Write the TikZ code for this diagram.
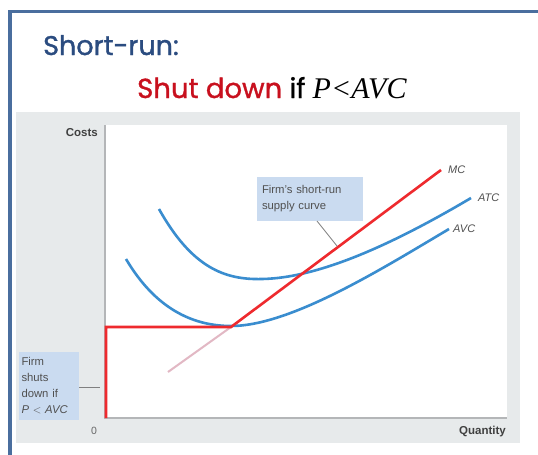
\documentclass[tikz,border=0pt]{standalone}
\usepackage{fontspec}
\setmainfont{Liberation Sans}
\newfontfamily\titlefont[FakeBold=1.2]{Poppins}
\newfontfamily\serifit{Liberation Serif}
\usetikzlibrary{positioning,calc}
\definecolor{framecol}{HTML}{4A6E9E}
\definecolor{titleblue}{HTML}{2B4C80}
\definecolor{shutred}{HTML}{C8101E}
\definecolor{panelgrey}{HTML}{E7EAEB}
\definecolor{curveblue}{HTML}{3A8DCF}
\definecolor{mcred}{HTML}{EE2A2E}
\definecolor{fadepink}{HTML}{E2B8C4}
\definecolor{notefill}{HTML}{CADBF0}
\definecolor{axisgrey}{HTML}{B4B6B8}
\definecolor{textgrey}{HTML}{505050}

\begin{document}
\begin{tikzpicture}[x=1pt,y=-1pt]
\tikzstyle{curvelbl}=[font=\fontsize{11}{11}\selectfont\itshape,text=textgrey,inner sep=0pt]
\tikzstyle{axlbl}=[font=\fontsize{11.5}{11.5}\selectfont\bfseries,text=black!75,inner sep=0pt]
\tikzstyle{note}=[fill=notefill,text=textgrey,align=left,inner sep=0pt,
  font=\fontsize{11.3}{16}\selectfont]
\tikzstyle{cost}=[curveblue,line width=2.6pt]
\tikzstyle{supply}=[mcred,line width=2.6pt]
\tikzstyle{pointer}=[gray,line width=0.8pt]
\useasboundingbox (0,0) rectangle (538,455);
\fill[white] (0,0) rectangle (538,455);
\draw[framecol,line width=3.8pt] (10,460) -- (10,11.5) -- (545,11.5);
\fill[panelgrey] (16,112) rectangle (520,443);
\fill[white] (105,125) rectangle (507,418);
\draw[axisgrey,line width=1.3pt] (105,125) -- (105,418) -- (507,418);

\node[anchor=base west,inner sep=0pt,text=titleblue,
  font=\titlefont\fontsize{27}{27}\selectfont] (title) at (43,55) {Short-run:};
\node[anchor=base west,inner sep=0pt,
  font=\titlefont\fontsize{27.5}{27.5}\selectfont] (rule) at (137,98)
  {\textcolor{shutred}{Shut down} if {\serifit\itshape\fontsize{30}{30}\selectfont P<AVC}};

\node[axlbl,anchor=base east] (costs) at (98,136) {Costs};
\node[axlbl,anchor=base east] (qty) at (506,434) {Quantity};
\node[axlbl,font=\fontsize{10.5}{10.5}\selectfont,text=black!60] (zero) at (94,431) {0};

\coordinate (o) at (106,418);
\coordinate (shutp) at (106,327);
\coordinate (avcmin) at (231,327);
\coordinate (mcend) at (441,170);
\coordinate (mcstart) at (168,372);

\draw[cost] (159,209) .. controls (192,268) and (225,280) .. (262,279)
  .. controls (322,278) and (400,240) .. (471,198) coordinate (atcend);
\draw[cost] (126,259) .. controls (155,308) and (192,326) .. (231,326)
  .. controls (290,326) and (380,270) .. (449,229) coordinate (avcend);
\draw[fadepink,line width=2pt] (mcstart) -- (avcmin);
\draw[supply] (o) -- (shutp) -- (avcmin) -- (mcend);

\node[curvelbl,right=7pt of mcend] (mclbl) {MC};
\node[curvelbl,right=7pt of atcend] (atclbl) {ATC};
\node[curvelbl,right=4pt of avcend] (avclbl) {AVC};

\node[note,minimum width=106pt,minimum height=44pt,text width=96pt] (supplynote) at (310,199)
  {Firm's short-run\\supply curve};
\coordinate (supplypt) at (337,246);
\draw[pointer] (317,221) -- (supplypt);

\node[note,minimum width=60pt,minimum height=68pt,text width=55pt] (shutnote) at (49,386)
  {Firm\\shuts\\down if\\\textit{P} $<$ \textit{AVC}};
\coordinate (shutpt) at (100,387);
\draw[pointer] (shutnote.east |- shutpt) -- (shutpt);
\end{tikzpicture}
\end{document}
